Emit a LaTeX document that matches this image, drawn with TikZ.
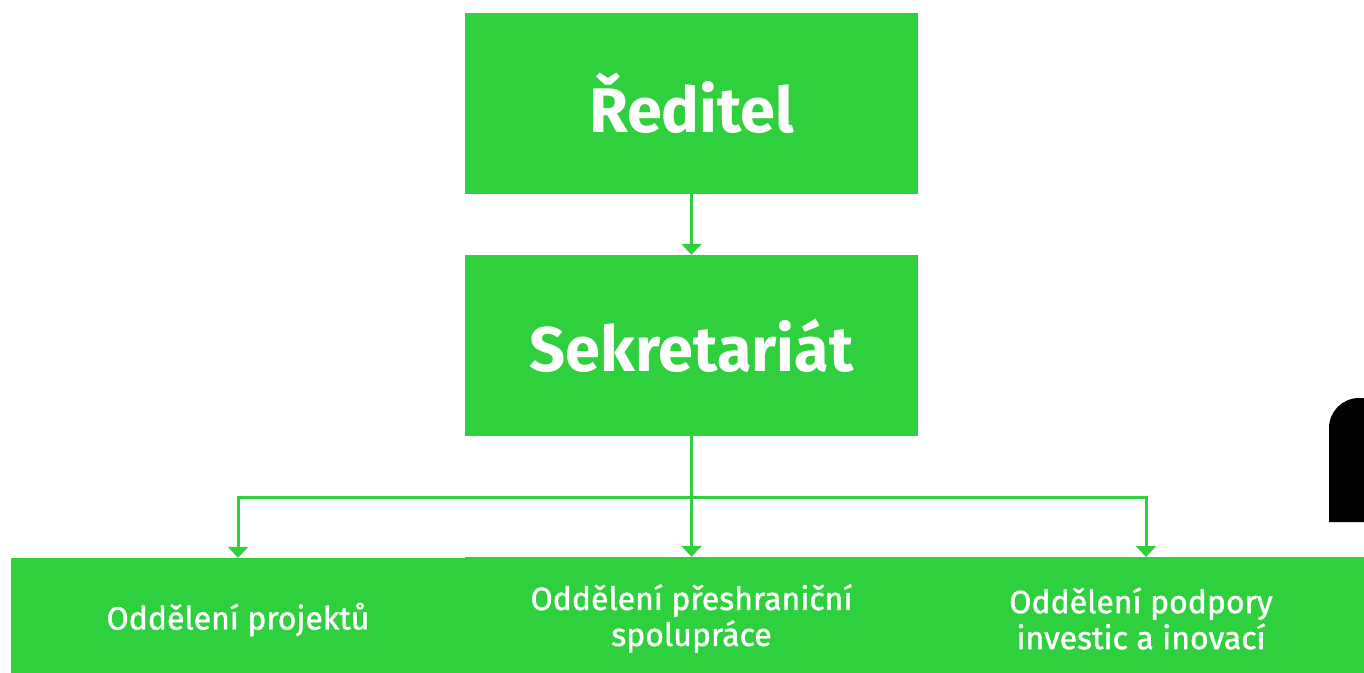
\documentclass[tikz,border=0pt]{standalone}
\usepackage{fontspec}
\setmainfont{Fira Sans}
\usetikzlibrary{arrows.meta}
\definecolor{grn}{RGB}{47,208,61}
\begin{document}
\begin{tikzpicture}[x=1pt,y=-1pt,
 box/.style={fill=grn, draw=none, inner sep=0pt, text=white, align=center},
 bigbox/.style={box, minimum width=453pt, minimum height=181pt, font=\fontsize{63}{70}\selectfont\bfseries},
 lowbox/.style={box, minimum height=123pt, font=\fontsize{32}{36}\selectfont\addfontfeatures{FakeBold=1.3}},
 conn/.style={draw=grn, line width=3pt},
 arr/.style={conn, -{Triangle[width=20pt,length=11pt]}}]
\useasboundingbox (0,0) rectangle (1364,672);
\clip (0,0) rectangle (1364,672);
\node[bigbox] (red) at (691.5,103.5) {Ředitel};
\node[bigbox] (sek) at (691.5,345.5) {Sekretariát};
\node[lowbox, minimum width=454pt] (left) at (238,619.5) {Oddělení projektů};
\node[lowbox, minimum width=453pt] (mid) at (691.5,618.5) {Oddělení přeshraniční\\spolupráce};
\node[lowbox, minimum width=446pt] (right) at (1141,618.5) {Oddělení podpory\\investic a inovací};
\draw[arr] (red.south) -- (sek.north);
\coordinate (j) at (691.5,497.5);
\coordinate (rt) at (1146,557);
\draw[conn] (sek.south) -- (j);
\draw[arr] (j) -- (mid.north);
\draw[arr] (j) -| (left.north);
\draw[arr] (j) -| (rt);
\fill[black] (1329,522) [rounded corners=30pt] -- (1329,398) -- (1390,398) [sharp corners] -- (1390,522) -- cycle;
\end{tikzpicture}
\end{document}
